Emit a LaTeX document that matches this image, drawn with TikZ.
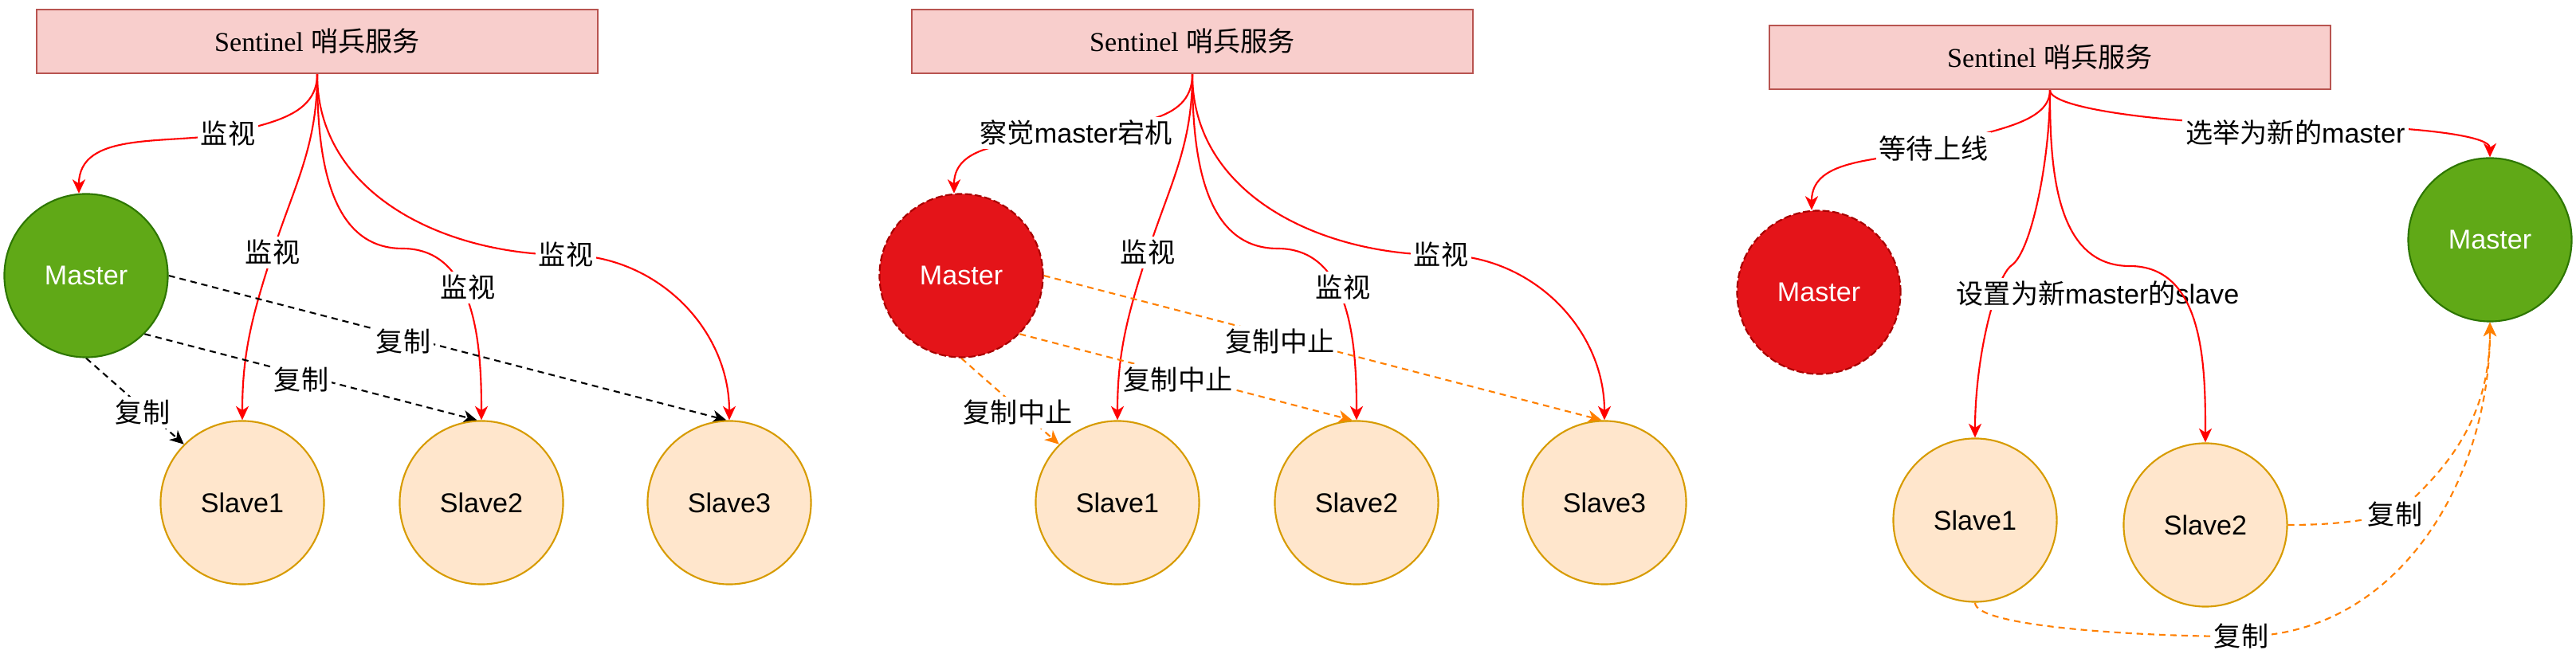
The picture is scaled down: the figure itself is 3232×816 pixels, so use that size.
\documentclass[tikz,border=0pt]{standalone}
\usepackage{fontspec}
\setmainfont{Liberation Sans}
\newfontfamily\cjk{Noto Sans CJK SC}
\newfontfamily\serifA{Liberation Serif}
\usetikzlibrary{arrows.meta,backgrounds}
\definecolor{sentF}{HTML}{F8CECC}
\definecolor{sentS}{HTML}{B85450}
\definecolor{grF}{HTML}{60A917}
\definecolor{grS}{HTML}{2D7600}
\definecolor{rdF}{HTML}{E41419}
\definecolor{rdS}{HTML}{A80000}
\definecolor{slF}{HTML}{FFE6CC}
\definecolor{slS}{HTML}{D79B00}
\definecolor{monC}{HTML}{FF0000}
\definecolor{orC}{HTML}{FF8000}
\newcommand\fs{\fontsize{9.7pt}{11.6pt}\selectfont}
\newcommand\zh[1]{{\cjk #1}}
\tikzset{
  sent/.style={draw=sentS, fill=sentF, line width=0.7pt, minimum width=7.04cm, minimum height=0.8cm, inner sep=0pt, font=\fs},
  mgreen/.style={circle, draw=grS, fill=grF, line width=0.6pt, minimum size=2.05cm, inner sep=0pt, text=white, font=\fs},
  mred/.style={circle, draw=rdS, fill=rdF, line width=0.6pt, dash pattern=on 2.5pt off 1pt, minimum size=2.05cm, inner sep=0pt, text=white, font=\fs},
  slave/.style={circle, draw=slS, fill=slF, line width=0.6pt, minimum size=2.05cm, inner sep=0pt, font=\fs},
  lbl/.style={fill=white, inner sep=1.2pt, font=\fs},
  tip/.style={-{Stealth[length=5pt,width=4.6pt,inset=1.5pt]}},
  mon/.style={draw=monC, line width=0.6pt, tip},
  rep/.style={draw=black, line width=0.6pt, dash pattern=on 2.3pt off 1.7pt, tip},
  halt/.style={draw=orC, line width=0.6pt, dash pattern=on 2.3pt off 1.7pt, tip},
}
\begin{document}
\begin{tikzpicture}[x=0.01cm,y=0.01cm]
\useasboundingbox (0,0) rectangle (3232,-816);

% ---------- panel 1 ----------
\node[sent] (S1) at (398,-52) {{\serifA Sentinel} \zh{哨兵服务}};
\node[mgreen] (M1) at (108,-346) {Master};
\node[slave] (A1) at (304,-631) {Slave1};
\node[slave] (A2) at (604,-631) {Slave2};
\node[slave] (A3) at (915,-631) {Slave3};
\node[lbl] (K1m) at (286,-168) {\zh{监视}};
\node[lbl] (K1a) at (342,-317) {\zh{监视}};
\node[lbl] (K1b) at (587,-361) {\zh{监视}};
\node[lbl] (K1c) at (710,-320) {\zh{监视}};
\node[lbl] (R1c) at (506,-429) {\zh{复制}};
\node[lbl] (R1b) at (378,-477) {\zh{复制}};
\node[lbl] (R1a) at (179,-518) {\zh{复制}};
\coordinate (W1b) at (505,-312);

% ---------- panel 2 ----------
\node[sent] (S2) at (1496,-52) {{\serifA Sentinel} \zh{哨兵服务}};
\node[mred] (M2) at (1206,-346) {Master};
\node[slave] (B1) at (1402,-631) {Slave1};
\node[slave] (B2) at (1702,-631) {Slave2};
\node[slave] (B3) at (2013,-631) {Slave3};
\node[lbl] (K2m) at (1350,-167) {\zh{察觉}master\zh{宕机}};
\node[lbl] (K2a) at (1440,-317) {\zh{监视}};
\node[lbl] (K2b) at (1685,-361) {\zh{监视}};
\node[lbl] (K2c) at (1808,-320) {\zh{监视}};
\node[lbl] (R2c) at (1606,-429) {\zh{复制中止}};
\node[lbl] (R2b) at (1478,-477) {\zh{复制中止}};
\node[lbl] (R2a) at (1277,-518) {\zh{复制中止}};
\coordinate (W2b) at (1603,-312);

% ---------- panel 3 ----------
\node[sent] (S3) at (2572,-72) {{\serifA Sentinel} \zh{哨兵服务}};
\node[mred] (M3) at (2282,-367) {Master};
\node[mgreen] (G3) at (3124,-301) {Master};
\node[slave] (C1) at (2478,-653) {Slave1};
\node[slave] (C2) at (2767,-659) {Slave2};
\node[lbl] (K3m) at (2426,-186) {\zh{等待上线}};
\node[lbl] (K3g) at (2880,-166) {\zh{选举为新的}master};
\node[lbl] (K3s) at (2632,-369) {\zh{设置为新}master\zh{的}slave};
\node[lbl] (R3b) at (3005,-646) {\zh{复制}};
\node[lbl] (R3a) at (2812,-799) {\zh{复制}};
\coordinate (W3a) at (2524,-333);
\coordinate (W3b) at (2672,-334);
\coordinate (W3g) at (2880,-157);

\begin{scope}[on background layer]
  % panel 1
  \draw[mon] (S1.south) to[out=-90,in=15] (K1m.center) to[out=190,in=90] (M1.95);
  \draw[mon] (S1.south) to[out=-90,in=72] (K1a.center) to[out=-108,in=90] (A1.north);
  \draw[mon] (S1.south) to[out=-90,in=180] (W1b) to[out=0,in=90] (A2.north);
  \draw[mon] (S1.south) to[out=-90,in=180] (K1c.center) to[out=0,in=90] (A3.north);
  \draw[rep] (M1.south) -- (A1.135);
  \draw[rep] (M1.-45) -- (A2.93);
  \draw[rep] (M1.east) -- (A3.92);
  % panel 2
  \draw[mon] (S2.south) to[out=-90,in=12] (K2m.center) to[out=192,in=90] (M2.95);
  \draw[mon] (S2.south) to[out=-90,in=72] (K2a.center) to[out=-108,in=90] (B1.north);
  \draw[mon] (S2.south) to[out=-90,in=180] (W2b) to[out=0,in=90] (B2.north);
  \draw[mon] (S2.south) to[out=-90,in=180] (K2c.center) to[out=0,in=90] (B3.north);
  \draw[halt] (M2.south) -- (B1.135);
  \draw[halt] (M2.-45) -- (B2.93);
  \draw[halt] (M2.east) -- (B3.92);
  % panel 3
  \draw[mon] (S3.south) to[out=-90,in=20,out distance=0.45cm] (K3m.center) to[out=195,in=90] (M3.95);
  \draw[mon] (S3.south) to[out=-90,in=180,out distance=0.25cm,in distance=1.4cm] (W3g) to[out=0,in=90,out distance=1.2cm,in distance=0.3cm] (G3.north);
  \draw[mon] (S3.south) to[out=-90,in=35,in distance=0.3cm] (W3a) to[out=215,in=90,out distance=0.25cm,in distance=1cm] (C1.north);
  \draw[halt] (C2.east) to[out=0,in=190] (R3b.center) to[out=40,in=-90] (G3.south);
  \draw[halt] (C1.south) to[out=-90,in=180,out distance=0.3cm,in distance=1.3cm] (R3a.center) to[out=0,in=-90] (G3.south);
\end{scope}
\draw[mon] (S3.south) to[out=-90,in=180] (W3b) to[out=0,in=90] (C2.north);
\end{tikzpicture}
\end{document}
